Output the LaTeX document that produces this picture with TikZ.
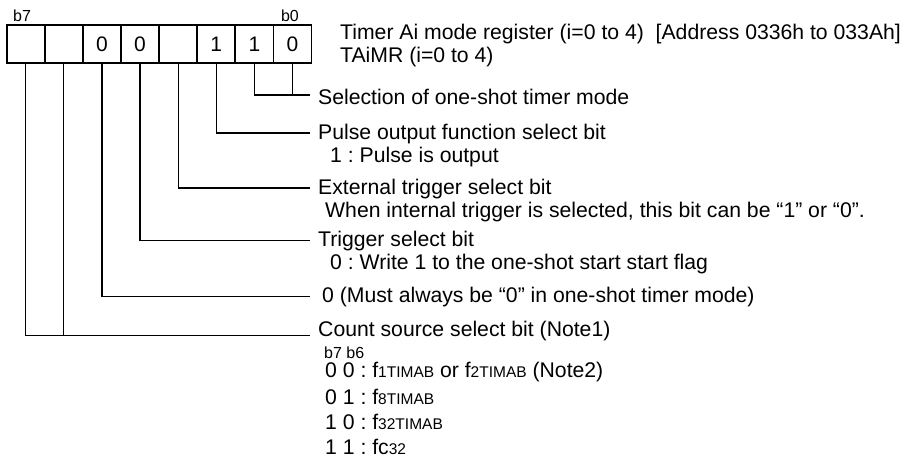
\documentclass[tikz,border=0pt]{standalone}
\usepackage{fontspec}
\setmainfont{Liberation Sans}
\usetikzlibrary{positioning}
\frenchspacing
\newcommand{\regsub}[1]{{\fontsize{15.5}{18}\selectfont #1}}
\tikzset{
  bitcell/.style={draw, line width=1.8pt, minimum width=38.1pt, minimum height=38pt, inner sep=0pt, font=\fontsize{21}{25}\selectfont},
  desc/.style={anchor=west, inner sep=0pt, font=\fontsize{21.2}{25}\selectfont},
  small/.style={anchor=west, inner sep=0pt, font=\fontsize{16}{18}\selectfont},
  lead/.style={line width=1.2pt}
}
\begin{document}
\begin{tikzpicture}[x=1pt,y=-1pt]
  \useasboundingbox (0,0) rectangle (905,466);
  % register cells b7 ... b0
  \foreach \b/\v in {7/,6/,5/0,4/0,3/,2/1,1/1,0/0}
    \node[bitcell] (c\b) at ({6.7+(7-\b)*38.1+19.05},44) {\v};
  \node[small, anchor=south west] (lb7) at (13,22) {b7};
  \node[small, anchor=south east] (lb0) at (299,22) {b0};
  % titles
  \node[desc] (title) at (340,34) {Timer Ai mode register (i=0 to 4)\ \ [Address 0336h to 033Ah]};
  \node[desc] (name) at (340,57) {TAiMR (i=0 to 4)};
  % descriptions
  \node[desc] (t0) at (318,97) {Selection of one-shot timer mode};
  \node[desc] (t2) at (318,134) {Pulse output function select bit};
  \node[desc] (t2a) at (330,157) {1 : Pulse is output};
  \node[desc] (t3) at (318,189) {External trigger select bit};
  \node[desc] (t3a) at (325,212) {When internal trigger is selected, this bit can be “1” or “0”.};
  \node[desc] (t4) at (318,241) {Trigger select bit};
  \node[desc] (t4a) at (330,264) {0 : Write 1 to the one-shot start start flag};
  \node[desc] (t5) at (322,297) {0 (Must always be “0” in one-shot timer mode)};
  \node[desc] (t6) at (318,331) {Count source select bit (Note1)};
  \node[small] (t6h) at (324,353) {b7 b6};
  \node[desc] (t6a) at (325,372) {0 0 : f\regsub{1TIMAB} or f\regsub{2TIMAB} (Note2)};
  \node[desc] (t6b) at (325,397) {0 1 : f\regsub{8TIMAB}};
  \node[desc] (t6c) at (325,422) {1 0 : f\regsub{32TIMAB}};
  \node[desc] (t6d) at (325,447) {1 1 : fc\regsub{32}};
  % leaders
  \coordinate (e0) at (310,95);
  \coordinate (e2) at (310,133);
  \coordinate (e3) at (310,188);
  \coordinate (e4) at (310,240.7);
  \coordinate (e5) at (310,296.7);
  \coordinate (e6) at (310,335.5);
  \draw[lead] (c1.south) |- (e0);
  \draw[lead] (c0.south) -- (c0.south |- e0);
  \draw[lead] (c2.south) |- (e2);
  \draw[lead] (c3.south) |- (e3);
  \draw[lead] (c4.south) |- (e4);
  \draw[lead] (c5.south) |- (e5);
  \draw[lead] (c7.south) |- (e6);
  \draw[lead] (c6.south) -- (c6.south |- e6);
\end{tikzpicture}
\end{document}
